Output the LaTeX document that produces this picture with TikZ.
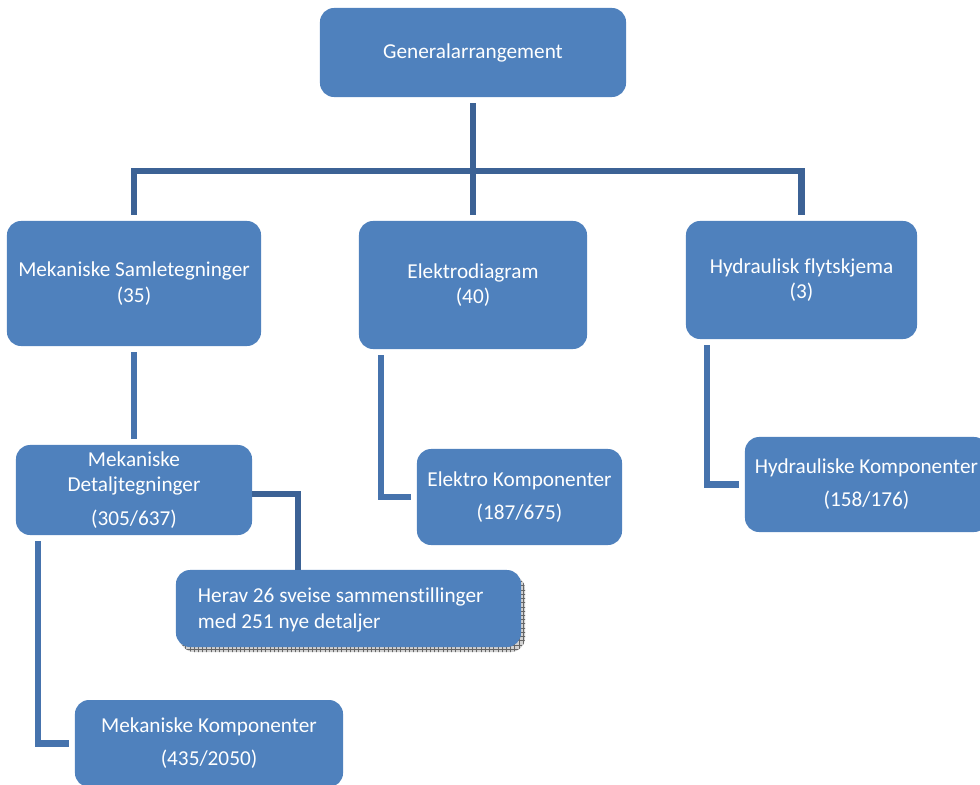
\documentclass[tikz,border=0pt]{standalone}
\usepackage{fontspec}
\setmainfont{Carlito}[Ligatures=NoCommon]
\usetikzlibrary{calc,patterns}

\definecolor{boxblue}{HTML}{4F81BD}
\definecolor{treeline}{HTML}{3C6295}
\definecolor{sideline}{HTML}{4673AD}

\tikzset{
  orgbox/.style={rectangle, rounded corners=10pt, fill=boxblue, text=white,
    inner sep=0pt, align=center, font=\fontsize{15.1}{18}\selectfont},
  treelink/.style={draw=treeline, line width=4.3pt},
  sidelink/.style={draw=sideline, line width=4.3pt},
  gap/.style={shorten <=4.3pt, shorten >=4.3pt}
}

\begin{document}
\begin{tikzpicture}[x=0.025cm, y=-0.025cm]
  \useasboundingbox (0,0) rectangle (980,784);
  \clip (0,0) rectangle (980,784);

  % top level
  \node[orgbox, minimum width=7.65cm, minimum height=2.225cm] (gen) at (473,52.5)
    {Generalarrangement};

  % second level
  \node[orgbox, minimum width=6.35cm, minimum height=3.125cm] (mek) at (134,283.5)
    {Mekaniske Samletegninger\\(35)};
  \node[orgbox, minimum width=5.7cm, minimum height=3.2cm] (elk) at (473,285)
    {Elektrodiagram\\(40)};
  \node[orgbox, minimum width=5.775cm, minimum height=2.95cm] (hyd) at (801.5,280)
    {Hydraulisk flytskjema\\(3)};

  % third level
  \node[orgbox, minimum width=5.9cm, minimum height=2.25cm] (det) at (134,490)
    {Mekaniske\\Detaljtegninger\\[6pt](305/637)};
  \node[orgbox, minimum width=5.125cm, minimum height=2.4cm] (ekomp) at (519.5,497)
    {Elektro Komponenter\\[5.5pt](187/675)};
  \node[orgbox, minimum width=6.075cm, minimum height=2.375cm] (hkomp) at (866.5,484.5)
    {Hydrauliske Komponenter\\[5.5pt](158/176)};

  % welded assemblies box with its hatched shadow
  \coordinate (hsnw) at (180,575);
  \coordinate (hsse) at (525,652);
  \fill[gray!35, rounded corners=10pt] (hsnw) rectangle (hsse);
  \fill[pattern=grid, pattern color=gray!80!black, rounded corners=10pt] (hsnw) rectangle (hsse);
  \node[orgbox, minimum width=8.625cm, minimum height=1.925cm, text width=7.525cm,
        align=flush left] (herav) at (348.5,608.5)
    {\strut Herav 26 sveise sammenstillinger\\med 251 nye detaljer};

  % fourth level
  \node[orgbox, minimum width=6.7cm, minimum height=2.175cm] (mkomp) at (209,743.5)
    {Mekaniske Komponenter\\[5.5pt](435/2050)};

  % tree from the general arrangement
  \coordinate (bus) at (473,171);
  \draw[treelink, gap] (gen.south) -- (elk.north);
  \draw[treelink, gap] (mek.north) |- (bus) -| (hyd.north);

  % branches below the second level
  \draw[sidelink, gap] (mek.south) -- (det.north);
  \draw[treelink] ($(det.east)+(0,4)$) -| ($(herav.north west)+(122,0)$);
  \draw[sidelink, gap] ($(det.south west)+(22,0)$) |- (mkomp.west);
  \draw[sidelink, gap] ($(elk.south west)+(22,0)$) |- (ekomp.west);
  \draw[sidelink, gap] ($(hyd.south west)+(21,0)$) |- (hkomp.west);
\end{tikzpicture}
\end{document}
